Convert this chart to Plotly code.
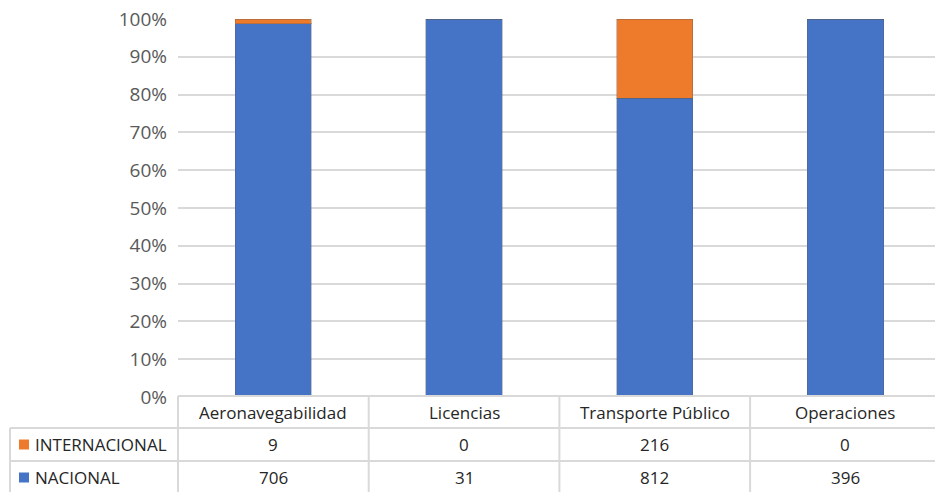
import plotly.graph_objects as go

categories = ["Aeronavegabilidad", "Licencias", "Transporte Público", "Operaciones"]
internacional = [9, 0, 216, 0]
nacional = [706, 31, 812, 396]
series_names = ["INTERNACIONAL", "NACIONAL"]
y_ticks = [0, 10, 20, 30, 40, 50, 60, 70, 80, 90, 100]
y_tick_text = [f"{v}%" for v in y_ticks]

W, H = 935, 492
FONT = "Open Sans"
BLUE = "#4573C5"
ORANGE = "#EE7A2C"
GRID = "#D9D9D9"
TXT = "#262626"

# geometry (pixels)
plot_left, plot_right = 178, 935
plot_top, plot_bottom = 19, 397
col_w = 190.7
xmin = -0.5
xmax = xmin + (plot_right - plot_left) / col_w

x_idx = list(range(len(categories)))

fig = go.Figure()
fig.add_trace(go.Bar(x=x_idx, y=nacional, name=series_names[1],
                     marker=dict(color=BLUE, line=dict(color="rgba(90,90,90,0.35)", width=1)),
                     width=0.40, showlegend=False))
fig.add_trace(go.Bar(x=x_idx, y=internacional, name=series_names[0],
                     marker=dict(color=ORANGE, line=dict(color="rgba(90,90,90,0.35)", width=1)),
                     width=0.40, showlegend=False))

def px_x(p):
    return p / W

def px_y(p):
    # paper y for a pixel row (paper 0 = plot_bottom, 1 = plot_top)
    return (plot_bottom - p) / (plot_bottom - plot_top)

def data_to_paper_x(v):
    d0, d1 = plot_left / W, plot_right / W
    return d0 + (v - xmin) / (xmax - xmin) * (d1 - d0)

shapes = []
annotations = []
line = dict(color=GRID, width=2)

row_tops = [396, 428, 461]
row_bottom_end = 500
# horizontal lines
shapes.append(dict(type="line", xref="paper", yref="paper",
                   x0=px_x(plot_left), x1=1.02, y0=px_y(row_tops[0]), y1=px_y(row_tops[0]), line=line))
for r in row_tops[1:]:
    shapes.append(dict(type="line", xref="paper", yref="paper",
                       x0=px_x(10), x1=1.02, y0=px_y(r), y1=px_y(r), line=line))
# vertical lines
shapes.append(dict(type="line", xref="paper", yref="paper",
                   x0=px_x(10), x1=px_x(10), y0=px_y(row_tops[1]), y1=px_y(row_bottom_end), line=line))
for i in range(len(categories) + 1):
    xp = data_to_paper_x(i - 0.5)
    if xp > 1:
        continue
    shapes.append(dict(type="line", xref="paper", yref="paper",
                       x0=xp, x1=xp, y0=px_y(row_tops[0]), y1=px_y(row_bottom_end), line=line))

row_centers = [(row_tops[0] + row_tops[1]) / 2, (row_tops[1] + row_tops[2]) / 2,
               (row_tops[2] + 494) / 2]

# header
for i, c in enumerate(categories):
    annotations.append(dict(x=data_to_paper_x(i), y=px_y(row_centers[0]), xref="paper", yref="paper",
                            text=c, showarrow=False, xanchor="center", yanchor="middle",
                            font=dict(family=FONT, size=17, color=TXT)))
# rows
rows = [(series_names[0], internacional, ORANGE), (series_names[1], nacional, BLUE)]
for r, (name, vals, col) in enumerate(rows):
    yc = row_centers[r + 1]
    shapes.append(dict(type="rect", xref="paper", yref="paper",
                       x0=px_x(19), x1=px_x(29), y0=px_y(yc - 5), y1=px_y(yc + 5),
                       fillcolor=col, line=dict(width=0)))
    annotations.append(dict(x=px_x(33), y=px_y(yc), xref="paper", yref="paper",
                            text=name, showarrow=False, xanchor="left", yanchor="middle",
                            font=dict(family=FONT, size=17, color=TXT)))
    for i, v in enumerate(vals):
        annotations.append(dict(x=data_to_paper_x(i), y=px_y(yc), xref="paper", yref="paper",
                                text=str(v), showarrow=False, xanchor="center", yanchor="middle",
                                font=dict(family=FONT, size=17, color=TXT)))

fig.update_layout(
    width=W, height=H,
    margin=dict(l=0, r=0, t=plot_top, b=H - plot_bottom),
    paper_bgcolor="white", plot_bgcolor="white",
    barmode="stack", barnorm="percent",
    xaxis=dict(domain=[plot_left / W, plot_right / W], range=[xmin, xmax],
               showticklabels=False, showgrid=False, zeroline=False, fixedrange=True),
    yaxis=dict(range=[0, 100], tickmode="array", tickvals=y_ticks, ticktext=y_tick_text,
               showgrid=True, gridcolor=GRID, gridwidth=2, zeroline=False,
               tickfont=dict(family=FONT, size=19, color="#595959"), ticklabelstandoff=10),
    shapes=shapes, annotations=annotations,
)

fig.write_html("out.html", config={"displayModeBar": False},
               post_script="document.body.style.margin='0';document.body.style.overflow='hidden';")
